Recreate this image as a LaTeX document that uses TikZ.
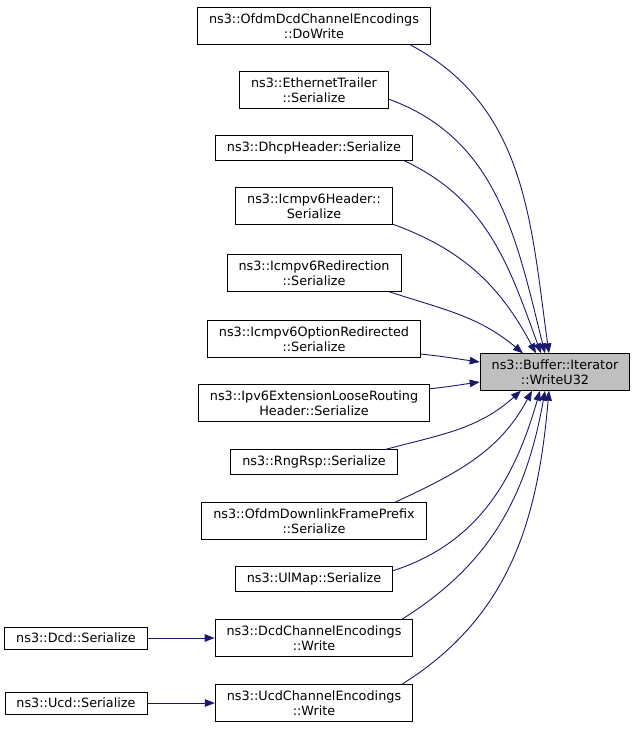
\documentclass[tikz,border=0pt]{standalone}
\usepackage{fontspec}
\setmainfont{DejaVu Sans}
\usepackage{xcolor}
\usepackage{tikz}
\usetikzlibrary{positioning,arrows.meta}

\definecolor{edgeblue}{RGB}{25,25,112}
\definecolor{hlgray}{RGB}{191,191,191}

\begin{document}
\begin{tikzpicture}[x=1pt, y=1pt,
  fnnode/.style={rectangle, draw=black, fill=white, line width=0.9pt, align=center, inner xsep=11.5pt, inner ysep=6pt, font=\fontsize{12.8}{14.5}\selectfont},
  callarrow/.style={draw=edgeblue, line width=0.9pt, -{Triangle[length=10pt, width=7.5pt, fill=edgeblue]}}]
\useasboundingbox (0,0) rectangle (635,-729);

\node[fnnode, fill=hlgray] at (555,-372) (0) {ns3::Buffer::Iterator\\::WriteU32};
\node[fnnode] at (314,-26) (1) {ns3::OfdmDcdChannelEncodings\\::DoWrite};
\node[fnnode] at (314,-90) (2) {ns3::EthernetTrailer\\::Serialize};
\node[fnnode] at (314,-148) (3) {ns3::DhcpHeader::Serialize};
\node[fnnode] at (314,-206) (4) {ns3::Icmpv6Header::\\Serialize};
\node[fnnode] at (314,-273) (5) {ns3::Icmpv6Redirection\\::Serialize};
\node[fnnode] at (314,-339) (6) {ns3::Icmpv6OptionRedirected\\::Serialize};
\node[fnnode] at (314,-403) (7) {ns3::Ipv6ExtensionLooseRouting\\Header::Serialize};
\node[fnnode] at (314,-462) (8) {ns3::RngRsp::Serialize};
\node[fnnode] at (314,-521) (9) {ns3::OfdmDownlinkFramePrefix\\::Serialize};
\node[fnnode] at (314,-579) (10) {ns3::UlMap::Serialize};
\node[fnnode] at (314,-638) (11) {ns3::DcdChannelEncodings\\::Write};
\node[fnnode] at (314,-703) (12) {ns3::UcdChannelEncodings\\::Write};
\node[fnnode] at (76,-638) (13) {ns3::Dcd::Serialize};
\node[fnnode] at (76,-703) (14) {ns3::Ucd::Serialize};

\draw[callarrow] (1.-11) to[out=-28, in=98] ([xshift=-6pt]0.north);
\draw[callarrow] (2.-7) to[out=-20, in=104] ([xshift=-10pt]0.north);
\draw[callarrow] (3.-8) to[out=-25, in=110] ([xshift=-14pt]0.north);
\draw[callarrow] (4.-13) to[out=-20, in=118] ([xshift=-19pt]0.north);
\draw[callarrow] (5.-14) to[out=-18, in=140] ([xshift=-32pt]0.north);
\draw[callarrow] (6.-8) to[out=-6, in=172] ([yshift=10pt]0.west);
\draw[callarrow] (7.7) to[out=6, in=188] ([yshift=-10pt]0.west);
\draw[callarrow] (8.10) to[out=15, in=-138] ([xshift=-34pt]0.south);
\draw[callarrow] (9.13) to[out=25, in=-118] ([xshift=-23pt]0.south);
\draw[callarrow] (10.6) to[out=18, in=-106] ([xshift=-15pt]0.south);
\draw[callarrow] (11.12) to[out=32, in=-100] ([xshift=-10pt]0.south);
\draw[callarrow] (12.12) to[out=32, in=-95] ([xshift=-6pt]0.south);
\draw[callarrow] (13) -- (11);
\draw[callarrow] (14) -- (12);

\end{tikzpicture}
\end{document}
